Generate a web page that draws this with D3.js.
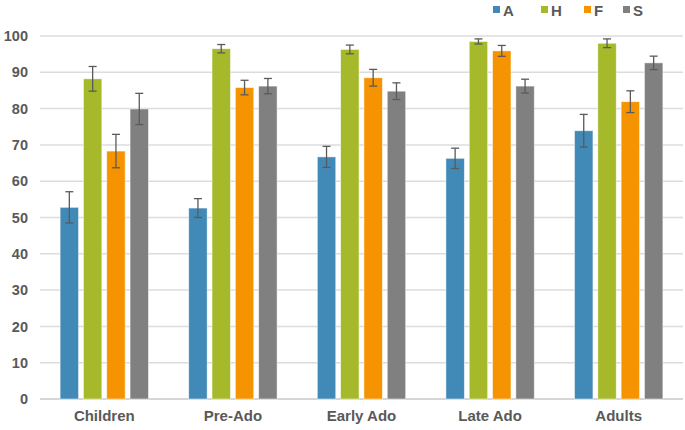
<!DOCTYPE html>
<html>
<head>
<meta charset="utf-8">
<script src="https://cdn.jsdelivr.net/npm/d3@7"></script>
<style>
  body { margin: 0; background: #fff; }
  text { font-family: "Liberation Sans", Arial, sans-serif; font-weight: bold; fill: #595959; }
</style>
</head>
<body>
<div class="chart"></div>
<script>
// groups and series
var groups = ["Children", "Pre-Ado", "Early Ado", "Late Ado", "Adults"];
var series = ["A", "H", "F", "S"];
var colors = ["#4189b6", "#a6b92b", "#f59300", "#808080"];

// mean values per series (one per group)
var valA = [52.8, 52.6, 66.7, 66.3, 73.9];
var valH = [88.2, 96.5, 96.3, 98.5, 98.0];
var valF = [68.3, 85.8, 88.5, 95.9, 81.9];
var valS = [79.9, 86.2, 84.8, 86.2, 92.6];

// error (+/-) per series
var errA = [4.3, 2.6, 2.9, 2.8, 4.5];
var errH = [3.4, 1.15, 1.2, 0.7, 1.2];
var errF = [4.6, 2.0, 2.3, 1.5, 3.0];
var errS = [4.3, 2.1, 2.3, 1.9, 1.85];

var yTicks = [0, 10, 20, 30, 40, 50, 60, 70, 80, 90, 100];

function buildRows() {
  var vals = [valA, valH, valF, valS];
  var errs = [errA, errH, errF, errS];
  var rows = [];
  groups.forEach(function (g, gi) {
    series.forEach(function (s, si) {
      rows.push({ group: g, key: s, idx: si, value: vals[si][gi], err: errs[si][gi] });
    });
  });
  return rows;
}

function drawChart() {
  var width = 685, height = 430;
  var left = 40, right = 683, top = 36, bottom = 399;

  var svg = d3.select("div.chart")
    .append("svg")
      .attr("width", width)
      .attr("height", height);

  var x0 = d3.scaleBand()
    .domain(groups)
    .range([left, right])
    .paddingInner(0.313)
    .paddingOuter(0.1565);

  var x1 = d3.scaleBand()
    .domain(series)
    .range([0, x0.bandwidth()])
    .paddingInner(0.21)
    .paddingOuter(0);

  var y = d3.scaleLinear()
    .domain([0, 100])
    .range([bottom, top]);

  // gridlines
  svg.append("g")
    .selectAll("line")
    .data(yTicks)
    .enter()
    .append("line")
    .attr("x1", left)
    .attr("x2", right)
    .attr("y1", function (d) { return y(d); })
    .attr("y2", function (d) { return y(d); })
    .attr("stroke", function (d) { return d === 0 ? "#c8c8c8" : "#dcdcdc"; })
    .attr("stroke-width", 1.5);

  // y labels
  var yAxis = svg.append("g")
    .attr("transform", "translate(" + left + ",0)")
    .call(d3.axisLeft(y).tickValues(yTicks).tickSize(0).tickPadding(12));
  yAxis.select(".domain").remove();
  yAxis.selectAll("text")
    .style("font-size", "14.5px")
    .attr("fill", "#595959");

  // x labels
  var xAxis = svg.append("g")
    .attr("transform", "translate(0," + bottom + ")")
    .call(d3.axisBottom(x0).tickSize(0).tickPadding(11));
  xAxis.select(".domain").remove();
  xAxis.selectAll("text")
    .style("font-size", "15px")
    .attr("fill", "#595959");

  var rows = buildRows();

  // bars
  svg.append("g")
    .selectAll("rect")
    .data(rows)
    .enter()
    .append("rect")
    .attr("x", function (d) { return x0(d.group) + x1(d.key); })
    .attr("y", function (d) { return y(d.value); })
    .attr("width", x1.bandwidth())
    .attr("height", function (d) { return y(0) - y(d.value); })
    .attr("fill", function (d) { return colors[d.idx]; })
    .attr("stroke", "#ffffff")
    .attr("stroke-opacity", 0.6)
    .attr("stroke-width", 0.8);

  // error bars
  var err = svg.append("g")
    .selectAll("g")
    .data(rows)
    .enter()
    .append("g")
    .attr("stroke", "#5a5a5a")
    .attr("stroke-width", 1.3);

  function cx(d) { return x0(d.group) + x1(d.key) + x1.bandwidth() / 2; }

  err.append("line")
    .attr("x1", cx).attr("x2", cx)
    .attr("y1", function (d) { return y(d.value + d.err); })
    .attr("y2", function (d) { return y(d.value - d.err); });
  err.append("line")
    .attr("x1", function (d) { return cx(d) - 4; })
    .attr("x2", function (d) { return cx(d) + 4; })
    .attr("y1", function (d) { return y(d.value + d.err); })
    .attr("y2", function (d) { return y(d.value + d.err); });
  err.append("line")
    .attr("x1", function (d) { return cx(d) - 4; })
    .attr("x2", function (d) { return cx(d) + 4; })
    .attr("y1", function (d) { return y(d.value - d.err); })
    .attr("y2", function (d) { return y(d.value - d.err); });

  // legend
  var legendX = [493, 541, 584, 623];
  var legend = svg.append("g")
    .selectAll("g")
    .data(series)
    .enter()
    .append("g")
    .attr("transform", function (d, i) { return "translate(" + legendX[i] + ",10)"; });

  legend.append("rect")
    .attr("x", 0)
    .attr("y", -4)
    .attr("width", 7)
    .attr("height", 7)
    .attr("fill", function (d, i) { return colors[i]; });

  legend.append("text")
    .attr("x", 10)
    .attr("y", 5.5)
    .style("font-size", "15px")
    .text(function (d) { return d; });
}

drawChart();
</script>
</body>
</html>
